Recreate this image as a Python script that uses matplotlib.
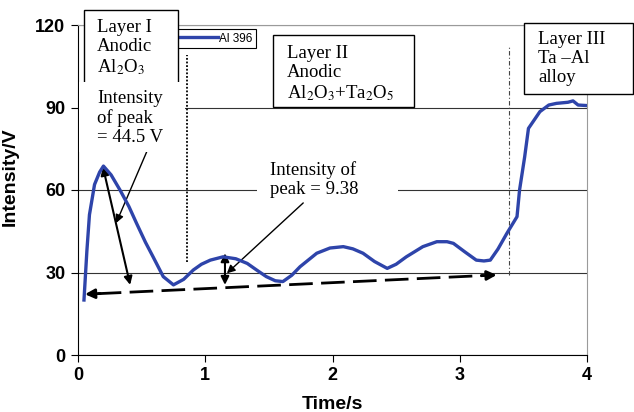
import matplotlib
matplotlib.use("Agg")
import matplotlib.pyplot as plt
from matplotlib.patches import Rectangle

# Al 396 intensity profile
time_s = [0.047, 0.07, 0.09, 0.13, 0.17, 0.2, 0.26, 0.33, 0.4, 0.46, 0.53, 0.59, 0.67,
          0.75, 0.83, 0.906, 0.97, 1.04, 1.14, 1.24, 1.33, 1.41, 1.48, 1.55, 1.61,
          1.68, 1.745, 1.876, 1.98, 2.085, 2.16, 2.24, 2.33, 2.43, 2.5, 2.58, 2.71,
          2.82, 2.9, 2.95, 3.04, 3.13, 3.19, 3.24, 3.3, 3.37, 3.45, 3.47, 3.51,
          3.54, 3.63, 3.7, 3.76, 3.85, 3.89, 3.93, 4.0]
intensity = [20, 38, 51, 62, 66.5, 68.7, 65.5, 60, 54, 47.9, 41, 35.7, 28.5,
             25.5, 27.5, 30.9, 33, 34.5, 35.7, 35, 33.3, 30.7, 28.5, 27, 26.7,
             29, 32.1, 37, 38.9, 39.4, 38.6, 37, 34, 31.5, 33, 35.7, 39.4,
             41.2, 41.2, 40.6, 37.5, 34.5, 34.2, 34.5, 38.5, 44.2, 50.3, 60, 72,
             82.4, 88.5, 90.9, 91.5, 91.9, 92.4, 90.9, 90.7]

# layer boundaries (x, y from, y to)
boundary1 = (0.854, 34, 109)
boundary2 = (3.39, 29, 112)

# baseline arrow and peak arrows (data coords)
baseline = [(0.055, 22.1), (3.29, 29.1)]
peak1 = [(0.196, 68.4), (0.41, 25.5)]
peak1_pointer = [(0.59, 79.3), (0.30, 48)]
peak2 = [(1.155, 37), (1.155, 25.5)]
peak2_pointer = [(1.77, 55.3), (1.17, 29.7)]

W, H = 634, 412
fig = plt.figure(figsize=(W / 100, H / 100), dpi=100)
ax = fig.add_axes([78 / W, 1 - 355 / H, (587 - 78) / W, (355 - 25) / H])

plt.rcParams["mathtext.fontset"] = "stix"

ax.plot(time_s, intensity, color="#2E44AA", lw=2.4, label="Al 396", zorder=4)

ax.set_xlim(0, 4)
ax.set_ylim(0, 120)
ax.set_xticks([0, 1, 2, 3, 4])
ax.set_yticks([0, 30, 60, 90, 120])
ax.yaxis.grid(True, color="#333333", lw=0.8)
ax.set_axisbelow(True)
for s in ["top", "right"]:
    ax.spines[s].set_color("#9a9a9a")
for s in ["left", "bottom"]:
    ax.spines[s].set_color("black")
ax.tick_params(direction="out", length=5, width=0.8, top=False, right=False, pad=4)
for lab in ax.get_xticklabels() + ax.get_yticklabels():
    lab.set_fontfamily("Liberation Sans")
    lab.set_fontweight("bold")
    lab.set_fontsize(13)
ax.set_xlabel("Time/s", fontfamily="Liberation Sans", fontweight="bold", fontsize=14, labelpad=8)
ax.set_ylabel("Intensity/V", fontfamily="Liberation Sans", fontweight="bold", fontsize=14)
ax.yaxis.set_label_coords(-0.117, 0.54)

# boundaries
ax.plot([boundary1[0]] * 2, boundary1[1:], ls=(0, (1, 1)), color="black", lw=1.3)
ax.plot([boundary2[0]] * 2, boundary2[1:], ls=(0, (4, 2, 1, 2)), color="#444444", lw=0.8)

# baseline dashed arrow
(bx0, by0), (bx1, by1) = baseline
ax.plot([bx0 + 0.1, bx1 - 0.1], [by0 + 0.2, by1 - 0.2], color="black", lw=2, dashes=(8.5, 3))
for tip, tail in [((bx0, by0), (bx0 + 0.12, by0 + 0.26)), ((bx1, by1), (bx1 - 0.12, by1 - 0.26))]:
    ax.annotate("", xy=tip, xytext=tail,
                arrowprops=dict(arrowstyle="-|>", color="black", lw=2, mutation_scale=14,
                                shrinkA=0, shrinkB=0))

for (p0, p1) in [peak1, peak2]:
    ax.annotate("", xy=p1, xytext=p0,
                arrowprops=dict(arrowstyle="<|-|>", color="black", lw=1.5, mutation_scale=12,
                                shrinkA=0, shrinkB=0))
for (p0, p1) in [peak1_pointer, peak2_pointer]:
    ax.annotate("", xy=p1, xytext=p0,
                arrowprops=dict(arrowstyle="-|>", color="black", lw=1.0, mutation_scale=12,
                                shrinkA=0, shrinkB=0))

# legend
leg = ax.legend(loc="upper right", bbox_to_anchor=(256 / W, 1 - 29 / H), bbox_transform=fig.transFigure,
                borderaxespad=0, fancybox=False, framealpha=1, edgecolor="black",
                prop={"family": "Liberation Sans", "size": 8.5}, handlelength=5.5,
                handletextpad=0.1, borderpad=0.3)
leg.get_frame().set_linewidth(0.8)


def box(x0, y0, x1, y1, edge=True, z=6):
    r = Rectangle((x0 / W, 1 - y1 / H), (x1 - x0) / W, (y1 - y0) / H, transform=fig.transFigure,
                  facecolor="white", edgecolor="black" if edge else "none", lw=1.0, zorder=z)
    fig.add_artist(r)


def label(x, y, s, z=7):
    fig.text(x / W, 1 - y / H, s, fontfamily="Liberation Serif", fontsize=13.5,
             va="top", ha="left", linespacing=1.14, zorder=z)


box(84, 10, 178, 90)
label(97, 19, "Layer I\nAnodic\nAl$_2$O$_3$")
box(79, 82, 185, 152, edge=False, z=8)
label(97, 90, "Intensity\nof peak\n= 44.5 V", z=9)

box(273, 35, 414, 107)
label(287, 45, "Layer II\nAnodic\nAl$_2$O$_3$+Ta$_2$O$_5$")

box(524, 23, 633, 94)
label(538, 31, "Layer III\nTa \u2013Al\nalloy")

box(257, 158, 398, 199, edge=False, z=8)
label(270, 161, "Intensity of\npeak = 9.38", z=9)

fig.savefig("out.png", dpi=100)
